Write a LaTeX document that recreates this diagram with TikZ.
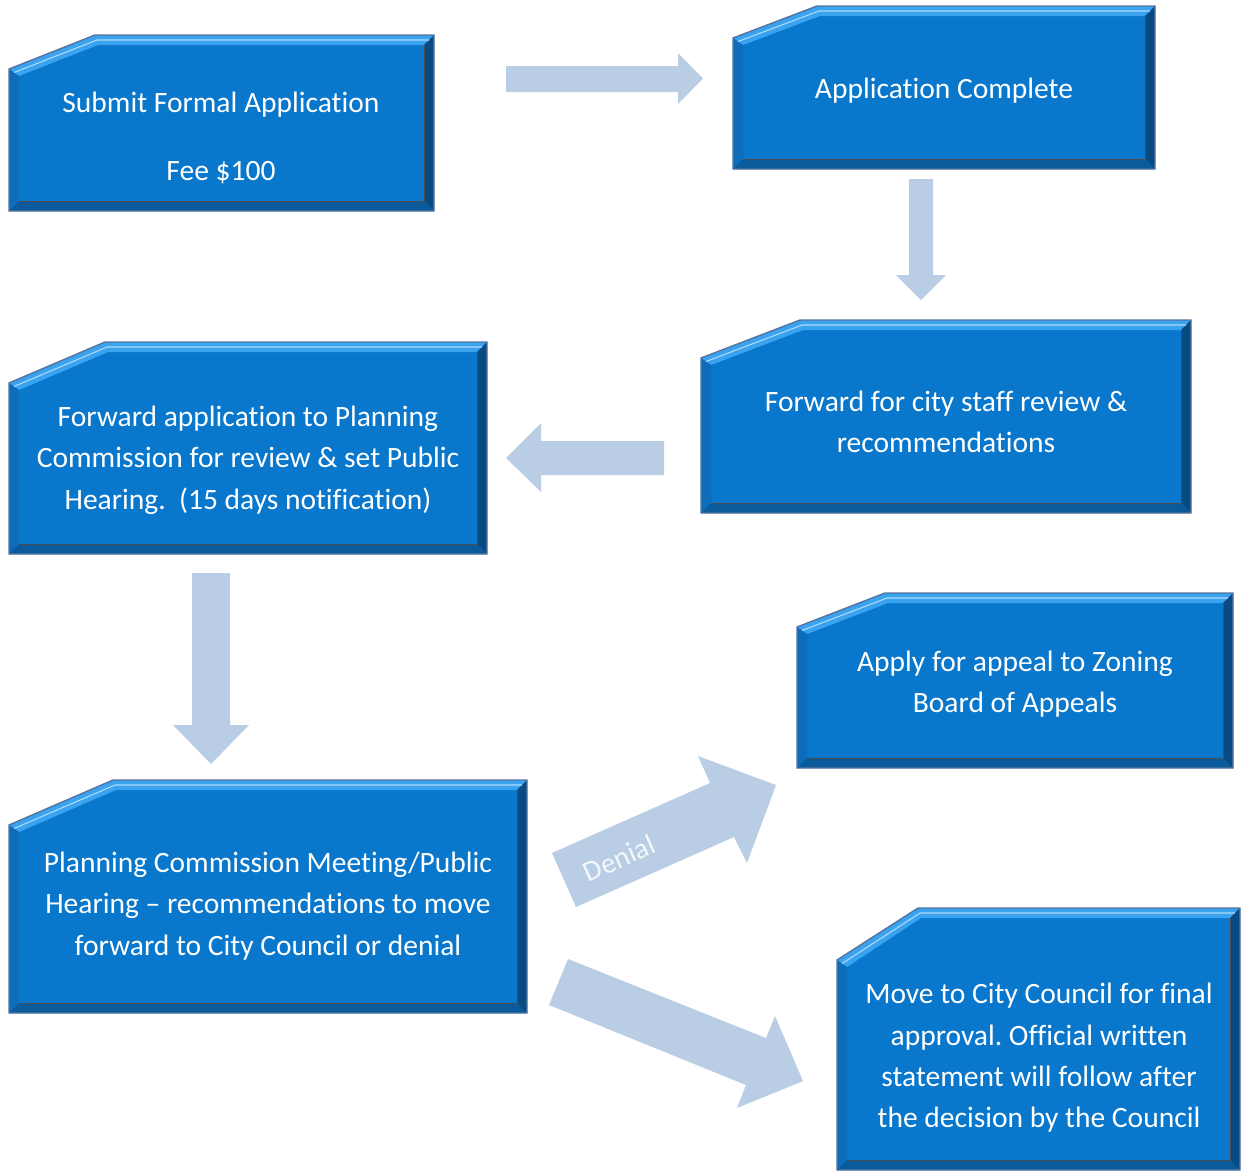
\documentclass[tikz,border=0pt]{standalone}
\usepackage{fontspec}
\setmainfont{Carlito}[Ligatures=NoCommon]
\definecolor{mainblue}{HTML}{0877CC}
\definecolor{lightband}{HTML}{3AA3EF}
\definecolor{leftband}{HTML}{0E6DBB}
\definecolor{rightband}{HTML}{0A4A82}
\definecolor{bottomband}{HTML}{0B5A9C}
\definecolor{edgeline}{HTML}{56749F}
\definecolor{arrowblue}{HTML}{B9CDE5}
\tikzset{
  boxtext/.style={text=white, align=center, font=\fontsize{16.8}{23.5}\selectfont, inner sep=0pt},
  blockarrow/.style={fill=arrowblue, draw=none},
  denialtext/.style={text=white, opacity=0.85, font=\fontsize{16.5}{19}\selectfont, inner sep=0pt}
}
% #1 x1, #2 y1 (top), #3 x2, #4 y2 (bottom), #5 cut x on top, #6 cut y on left
\newcommand\bevelbox[6]{%
  \fill[mainblue] (#1,#6) -- (#5,#2) -- (#3,#2) -- (#3,#4) -- (#1,#4) -- cycle;
  \fill[lightband] (#5,#2) -- (#3,#2) -- ({#3-10},{#2+10}) -- ({#5+3},{#2+10}) -- cycle;
  \fill[lightband] (#1,#6) -- (#5,#2) -- ({#5+3},{#2+10}) -- ({#1+10},{#6+7}) -- cycle;
  \fill[leftband] (#1,#6) -- ({#1+10},{#6+7}) -- ({#1+10},{#4-10}) -- (#1,#4) -- cycle;
  \fill[rightband] (#3,#2) -- (#3,#4) -- ({#3-10},{#4-10}) -- ({#3-10},{#2+10}) -- cycle;
  \fill[bottomband] (#1,#4) -- ({#1+10},{#4-10}) -- ({#3-10},{#4-10}) -- (#3,#4) -- cycle;
  \draw[black!70, line width=0.5pt] ({#3-10},{#2+10}) -- ({#3-10},{#4-10}) -- ({#1+10},{#4-10});
  \draw[white!60!lightband, line width=0.6pt] ({#1+5},{#6+3.5}) -- ({#5+2},{#2+5}) -- ({#3-5},{#2+5});
  \draw[edgeline, line width=0.8pt] (#1,#6) -- (#5,#2) -- (#3,#2) -- (#3,#4) -- (#1,#4) -- cycle;
}
\begin{document}
\frenchspacing
\begin{tikzpicture}[x={(0.02cm,0)}, y={(0,-0.02cm)}]
\useasboundingbox (0,0) rectangle (1241,1171);

% boxes
\bevelbox{9}{35}{434}{211}{95}{69}
\node[boxtext] (submit) at (221,138) {Submit Formal Application\\[15.1pt]Fee \$100};

\bevelbox{733}{6}{1155}{169}{817}{38}
\node[boxtext] (complete) at (944,91) {Application Complete};

\bevelbox{701}{320}{1191}{513}{800}{358}
\node[boxtext] (staff) at (946,422) {Forward for city staff review \&\\recommendations};

\bevelbox{9}{342}{487}{554}{105}{383}
\node[boxtext] (planning) at (248,460) {Forward application to Planning\\Commission for review \& set Public\\Hearing.\ \ (15 days notification)};

\bevelbox{797}{593}{1233}{768}{885}{627}
\node[boxtext] (appeal) at (1015,684) {Apply for appeal to Zoning\\Board of Appeals};

\bevelbox{9}{780}{527}{1013}{113}{825}
\node[boxtext] (meeting) at (268,906) {Planning Commission Meeting/Public\\Hearing -- recommendations to move\\forward to City Council or denial};

\bevelbox{837}{908}{1240}{1170}{918}{960}
\node[boxtext] (council) at (1039,1058) {Move to City Council for final\\approval. Official written\\statement will follow after\\the decision by the Council};

% block arrows
\fill[blockarrow] (506,66) -- (678,66) -- (678,53) -- (703,78.5) -- (678,104) -- (678,92) -- (506,92) -- cycle;
\fill[blockarrow] (909,179) -- (933,179) -- (933,275) -- (946,275) -- (921,300) -- (896,275) -- (909,275) -- cycle;
\fill[blockarrow] (664,441) -- (541,441) -- (541,423) -- (506,458) -- (541,492) -- (541,475) -- (664,475) -- cycle;
\fill[blockarrow] (192,573) -- (230,573) -- (230,725) -- (249,725) -- (211,764) -- (173,725) -- (192,725) -- cycle;
\fill[blockarrow] (552,853) -- (710,783) -- (698,756) -- (776,785) -- (747,863) -- (734,837) -- (576,907) -- cycle;
\fill[blockarrow] (568,959) -- (766,1038) -- (775,1016) -- (803,1081) -- (737,1108) -- (746,1085) -- (549,1005) -- cycle;

\node[denialtext, rotate=24] (denial) at (619,858) {Denial};
\end{tikzpicture}
\end{document}
